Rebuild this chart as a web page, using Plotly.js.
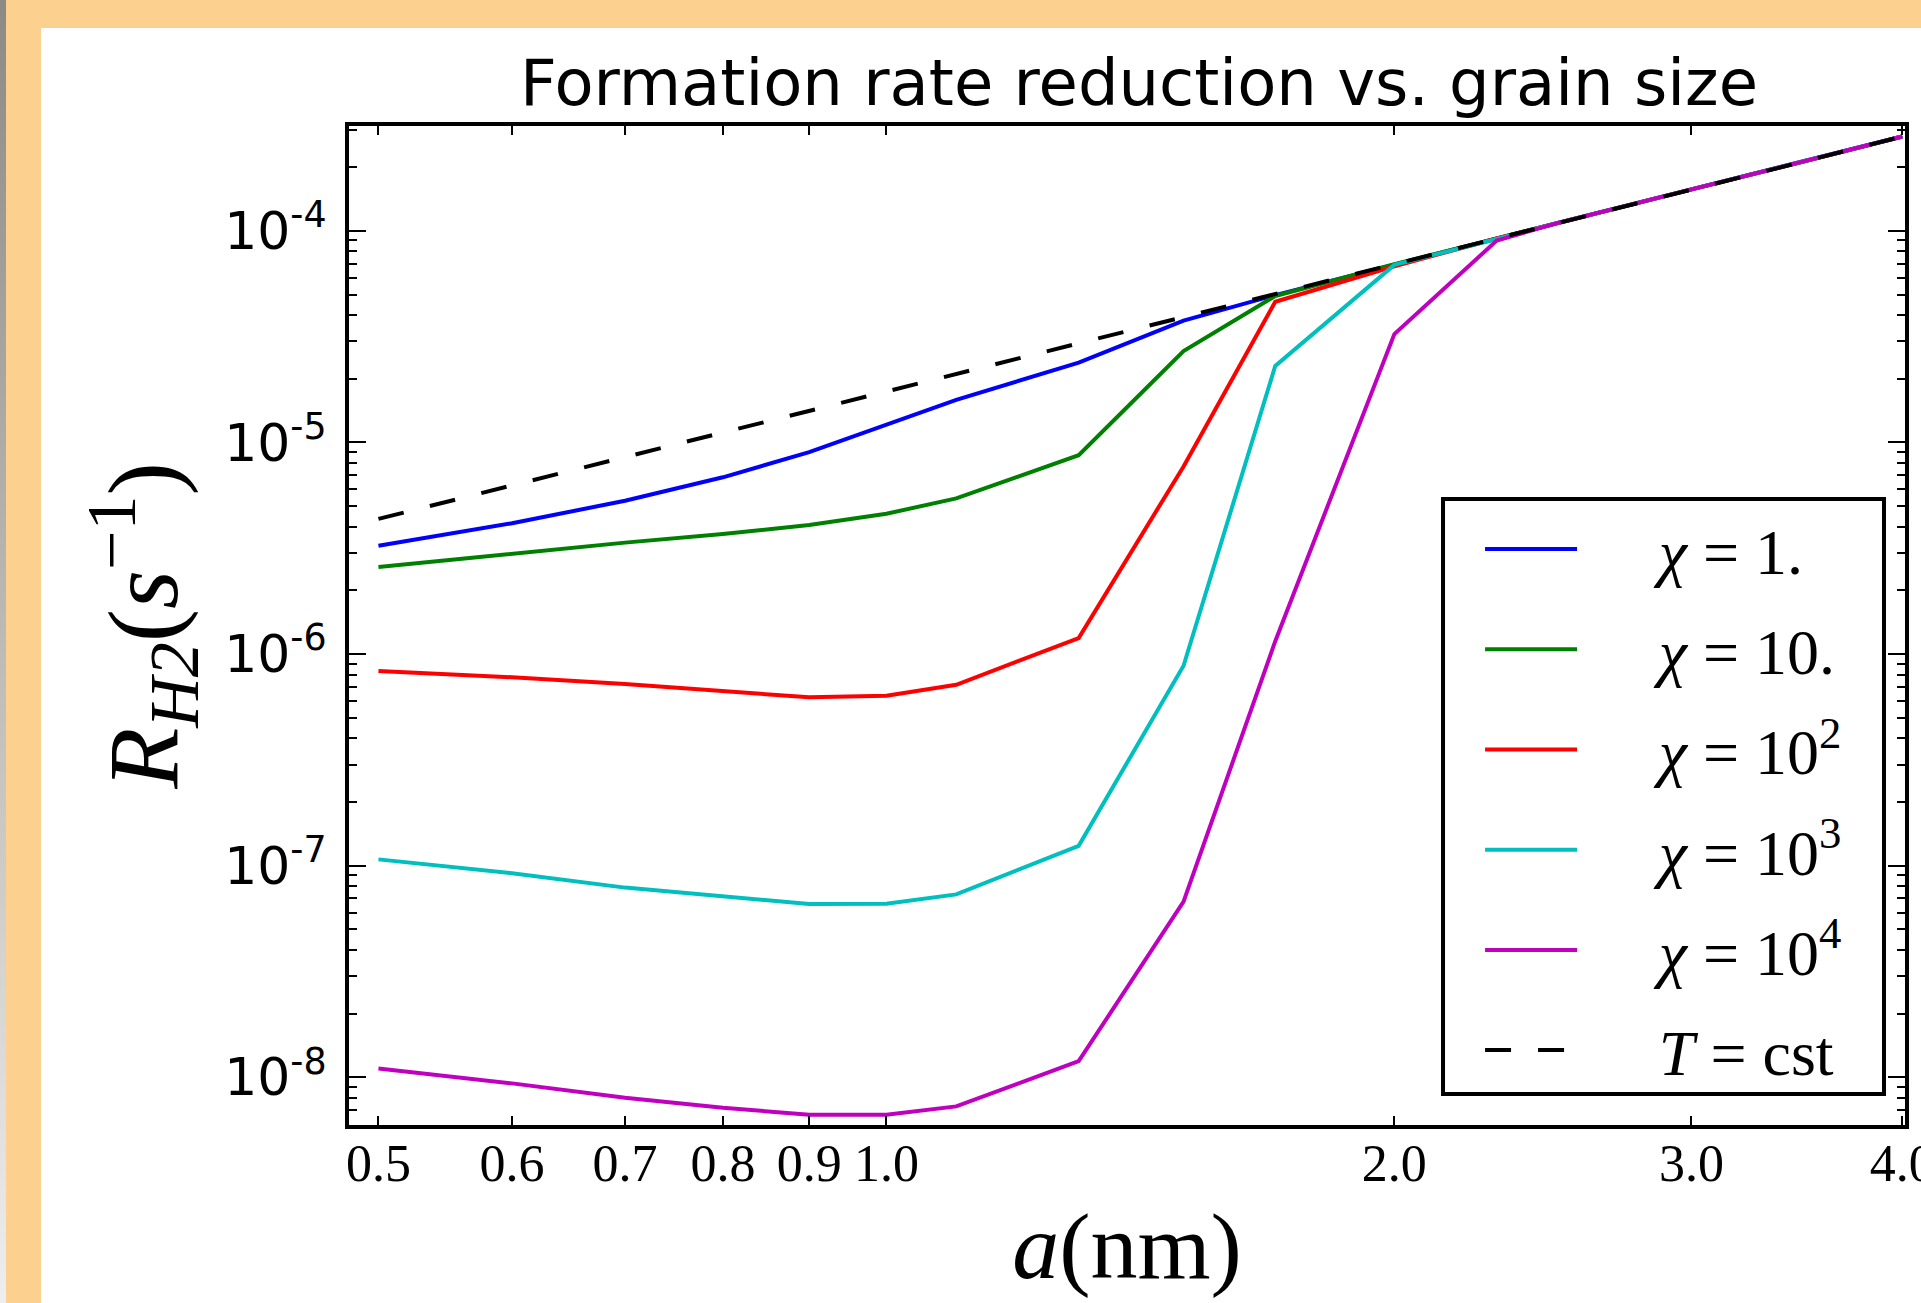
<!DOCTYPE html>
<html><head><meta charset="utf-8">
<script src="https://cdn.plot.ly/plotly-3.0.1.min.js"></script>
<style>
html,body{margin:0;padding:0;width:1921px;height:1303px;overflow:hidden;background:#fcd18f;}
#strip{position:absolute;left:0;top:0;width:6px;height:1303px;background:linear-gradient(#8d8a85,#c8c4bf 60%,#eeeeee);}
#chart{position:absolute;left:41px;top:28px;width:1880px;height:1275px;background:#fff;}
</style></head><body><div id="strip"></div><div id="chart"></div>
<script>
// grain size a (nm)
const grainSize = [0.5, 0.6, 0.7, 0.8, 0.9, 1.0, 1.1, 1.3, 1.5, 1.7, 2.0, 2.3, 2.5, 3.0, 3.5, 4.0];
// R_H2 (s^-1) for each radiation field chi
const rateChi1   = [3.25e-6, 4.15e-6, 5.30e-6, 6.84e-6, 9.0e-6, 1.22e-5, 1.59e-5, 2.38e-5, 3.76e-5, 4.97e-5, 6.95e-5, 9.2e-5, 1.09e-4, 1.57e-4, 2.13e-4, 2.79e-4];
const rateChi10  = [2.58e-6, 2.99e-6, 3.36e-6, 3.69e-6, 4.07e-6, 4.6e-6, 5.44e-6, 8.7e-6, 2.70e-5, 4.92e-5, 6.95e-5, 9.2e-5, 1.09e-4, 1.57e-4, 2.13e-4, 2.79e-4];
const rateChi1e2 = [8.31e-7, 7.76e-7, 7.22e-7, 6.71e-7, 6.24e-7, 6.35e-7, 7.15e-7, 1.19e-6, 7.7e-6, 4.62e-5, 6.8e-5, 9.2e-5, 1.09e-4, 1.57e-4, 2.13e-4, 2.79e-4];
const rateChi1e3 = [1.07e-7, 9.2e-8, 7.87e-8, 7.13e-8, 6.59e-8, 6.6e-8, 7.31e-8, 1.24e-7, 8.8e-7, 2.30e-5, 6.9e-5, 9.15e-5, 1.09e-4, 1.57e-4, 2.13e-4, 2.79e-4];
const rateChi1e4 = [1.10e-8, 9.35e-9, 8.0e-9, 7.17e-9, 6.65e-9, 6.65e-9, 7.28e-9, 1.19e-8, 6.75e-8, 1.15e-6, 3.25e-5, 9.0e-5, 1.09e-4, 1.57e-4, 2.13e-4, 2.79e-4];
const rateTcst   = [4.35e-6, 6.26e-6, 8.5e-6, 1.11e-5, 1.41e-5, 1.74e-5, 2.1e-5, 2.94e-5, 3.92e-5, 5.03e-5, 6.95e-5, 9.2e-5, 1.09e-4, 1.57e-4, 2.13e-4, 2.79e-4];

const seriesNames = ['<i>χ</i> = 1.', '<i>χ</i> = 10.', '<i>χ</i> = 10<sup>2</sup>', '<i>χ</i> = 10<sup>3</sup>', '<i>χ</i> = 10<sup>4</sup>', '<i>T</i> = cst'];
const seriesColors = ['#0000ff', '#008000', '#ff0000', '#00bfbf', '#bf00bf', '#000000'];

const xTickVals = [0.5, 0.6, 0.7, 0.8, 0.9, 1.0, 2.0, 3.0, 4.0];
const xTickText = ['0.5', '0.6', '0.7', '0.8', '0.9', '1.0', '2.0', '3.0', '4.0'];
const yTickVals = [1e-8, 1e-7, 1e-6, 1e-5, 1e-4];
const yTickText = ['10<sup>-8</sup>', '10<sup>-7</sup>', '10<sup>-6</sup>', '10<sup>-5</sup>', '10<sup>-4</sup>'];

const seriesValues = [rateChi1, rateChi10, rateChi1e2, rateChi1e3, rateChi1e4, rateTcst];
const pad = '\u00a0\u00a0\u00a0\u00a0\u2009';
const traces = seriesValues.map((vals, i) => ({
  x: grainSize, y: vals, type: 'scatter', mode: 'lines',
  name: pad + seriesNames[i], legendgroup: 'g' + i,
  line: {color: seriesColors[i], width: 4, dash: i === 5 ? '26px,27px' : 'solid'}
}));

const axisCommon = {
  showline: true, linewidth: 4, linecolor: '#000', mirror: 'ticks',
  ticks: 'inside', tickwidth: 2, tickcolor: '#000', showgrid: false, zeroline: false,
  automargin: false
};

const layout = {
  width: 1880, height: 1275,
  paper_bgcolor: '#ffffff', plot_bgcolor: '#ffffff',
  margin: {l: 308, r: 16, t: 98, b: 178},
  showlegend: true,
  title: {text: 'Formation rate reduction vs. grain size', font: {family: 'DejaVu Sans', size: 64, color: '#000'},
          x: 0.5077, xref: 'paper', xanchor: 'center', y: 1, yref: 'paper', yanchor: 'bottom', pad: {b: 21}},
  xaxis: Object.assign({}, axisCommon, {
    type: 'log', range: [Math.log10(0.4803), Math.log10(4.0147)],
    tickmode: 'array', tickvals: xTickVals, ticktext: xTickText, ticklen: 9,
    ticklabeloverflow: 'allow',
    tickfont: {family: 'Liberation Serif', size: 52, color: '#000'}, ticklabelstandoff: -10,
    title: {text: '<i>a</i>(nm)', font: {family: 'Liberation Serif', size: 94, color: '#000'}, standoff: 22}
  }),
  yaxis: Object.assign({}, axisCommon, {
    type: 'log', range: [-8.2259, -3.5047],
    tickmode: 'array', tickvals: yTickVals, ticktext: yTickText, ticklen: 17,
    minor: {ticks: 'inside', ticklen: 8, tickwidth: 2, tickcolor: '#000', dtick: 'D1', showgrid: false},
    tickfont: {family: 'DejaVu Sans', size: 52, color: '#000'}, ticklabelstandoff: 8,
    title: {text: '<i>R</i><sub><i>H2</i></sub>(<i>s</i><sup>−1</sup>)', font: {family: 'Liberation Serif', size: 100, color: '#000'}, standoff: 14}
  }),
  shapes: [{
    type: 'rect', xref: 'paper', yref: 'paper', layer: 'above',
    x0: 0.7031, x1: 0.9865, y0: 0.031, y1: 0.6266,
    fillcolor: '#ffffff', line: {color: '#000', width: 4}
  }],
  legend: {
    x: 0.7269, xanchor: 'left', y: 0.6246, yanchor: 'top',
    bgcolor: 'rgba(0,0,0,0)', borderwidth: 0,
    font: {family: 'Liberation Serif', size: 64, color: '#000'},
    itemwidth: 92, traceorder: 'grouped', tracegroupgap: 14
  },
  hovermode: false
};

Plotly.newPlot('chart', traces, layout, {staticPlot: true, displayModeBar: false});
</script></body></html>
